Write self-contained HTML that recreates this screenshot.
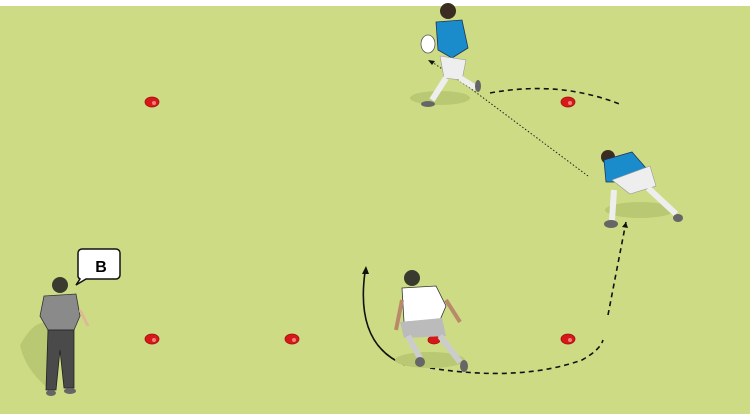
<!DOCTYPE html>
<html><head><meta charset="utf-8"><style>
html,body{margin:0;padding:0;background:#fff}
svg{display:block}
</style></head><body>
<svg width="750" height="416" viewBox="0 0 750 416" xmlns="http://www.w3.org/2000/svg">
<rect x="0" y="0" width="750" height="416" fill="#fff"/>
<rect x="0" y="6" width="750" height="408" fill="#cddc84"/>
<!-- cones -->
<g fill="#d81818" stroke="#a01010" stroke-width="0.8">
<ellipse cx="152" cy="102" rx="7" ry="5"/>
<ellipse cx="568" cy="102" rx="7" ry="5"/>
<ellipse cx="152" cy="339" rx="7" ry="5"/>
<ellipse cx="292" cy="339" rx="7" ry="5"/>
<ellipse cx="568" cy="339" rx="7" ry="5"/>
<ellipse cx="434" cy="340" rx="6" ry="4"/>
</g>
<g fill="#f08080"><circle cx="154" cy="103" r="2"/><circle cx="570" cy="103" r="2"/><circle cx="154" cy="340" r="2"/><circle cx="294" cy="340" r="2"/><circle cx="570" cy="340" r="2"/></g>
<!-- paths -->
<path d="M490 93 Q560 80 622 105" fill="none" stroke="#111" stroke-width="1.6" stroke-dasharray="5,4"/>
<path d="M588 176 L470 88 L432 62" fill="none" stroke="#222" stroke-width="1" stroke-dasharray="1.5,2"/>
<path d="M428 60 l7 1 l-3 4 z" fill="#111"/>
<path d="M608 315 L626 222" fill="none" stroke="#111" stroke-width="1.6" stroke-dasharray="5,4"/>
<path d="M626 222 l-4 5 l6 1 z" fill="#111"/>
<path d="M430 368 Q520 382 582 360 Q600 350 603 340" fill="none" stroke="#111" stroke-width="1.6" stroke-dasharray="5,4"/>
<path d="M405 365 Q355 345 365 272" fill="none" stroke="#111" stroke-width="1.6"/>
<path d="M366 266 l-4 8 l7 0 z" fill="#111"/>
<!-- shadows -->
<g fill="#b9c873">
<ellipse cx="440" cy="98" rx="30" ry="7"/>
<ellipse cx="640" cy="210" rx="35" ry="8"/>
<ellipse cx="430" cy="360" rx="35" ry="8"/>
<path d="M20 345 Q40 310 55 330 L50 390 Q25 370 20 345z"/>
</g>
<!-- coach -->
<circle cx="60" cy="285" r="8" fill="#3a3a2e"/>
<path d="M44 296 L76 294 L80 316 L74 330 L48 330 L40 316 Z" fill="#8a8a8a" stroke="#333" stroke-width="0.8"/>
<path d="M48 330 L74 330 L74 388 L64 388 L60 350 L56 390 L46 390 Z" fill="#4a4a4a" stroke="#222" stroke-width="0.8"/>
<path d="M80 310 L88 326" stroke="#e0b896" stroke-width="3"/>
<ellipse cx="51" cy="393" rx="5" ry="3" fill="#666"/><ellipse cx="70" cy="391" rx="6" ry="3" fill="#666"/>
<!-- bubble -->
<path d="M86 249 h30 a4 4 0 0 1 4 4 v22 a4 4 0 0 1 -4 4 h-30 l-10 6 l4 -6 a4 4 0 0 1 -2 -4 v-22 a4 4 0 0 1 4 -4z" fill="#fff" stroke="#111" stroke-width="1.5"/>
<text x="101" y="272" font-family="Liberation Sans, sans-serif" font-weight="bold" font-size="16" text-anchor="middle">B</text>
<!-- top player -->
<circle cx="448" cy="11" r="8" fill="#3a2e22"/>
<path d="M436 22 L462 20 L468 48 L452 58 L438 50 Z" fill="#1a8ccc" stroke="#235" stroke-width="0.8"/>
<path d="M440 56 L466 60 L462 80 L444 78 Z" fill="#eee" stroke="#999" stroke-width="0.6"/>
<path d="M446 78 L432 100 M460 78 L476 88" stroke="#eee" stroke-width="6"/>
<ellipse cx="428" cy="104" rx="7" ry="3" fill="#666"/><ellipse cx="478" cy="86" rx="3" ry="6" fill="#666"/>
<ellipse cx="428" cy="44" rx="7" ry="9" fill="#fff" stroke="#555" stroke-width="0.8"/>
<!-- right player -->
<circle cx="608" cy="157" r="7" fill="#3a2e22"/>
<path d="M604 160 L632 152 L646 168 L624 182 L606 182 Z" fill="#1a8ccc" stroke="#235" stroke-width="0.8"/>
<path d="M612 180 L650 166 L656 186 L630 194 Z" fill="#eee" stroke="#999" stroke-width="0.6"/>
<path d="M614 190 L612 220 M648 188 L676 214" stroke="#eee" stroke-width="6"/>
<ellipse cx="611" cy="224" rx="7" ry="4" fill="#666"/><ellipse cx="678" cy="218" rx="5" ry="4" fill="#666"/>
<!-- bottom player -->
<circle cx="412" cy="278" r="8" fill="#3a3a2e"/>
<path d="M402 288 L436 286 L446 306 L440 320 L404 322 Z" fill="#fff" stroke="#333" stroke-width="0.8"/>
<path d="M400 322 L442 318 L446 336 L404 338 Z" fill="#bbb"/>
<path d="M408 336 L420 358 M440 336 L460 362" stroke="#ccc" stroke-width="6"/>
<path d="M446 300 L460 322 M402 300 L396 330" stroke="#b98a6a" stroke-width="4"/>
<ellipse cx="420" cy="362" rx="5" ry="5" fill="#666"/><ellipse cx="464" cy="366" rx="4" ry="6" fill="#666"/>
</svg>
</body></html>
